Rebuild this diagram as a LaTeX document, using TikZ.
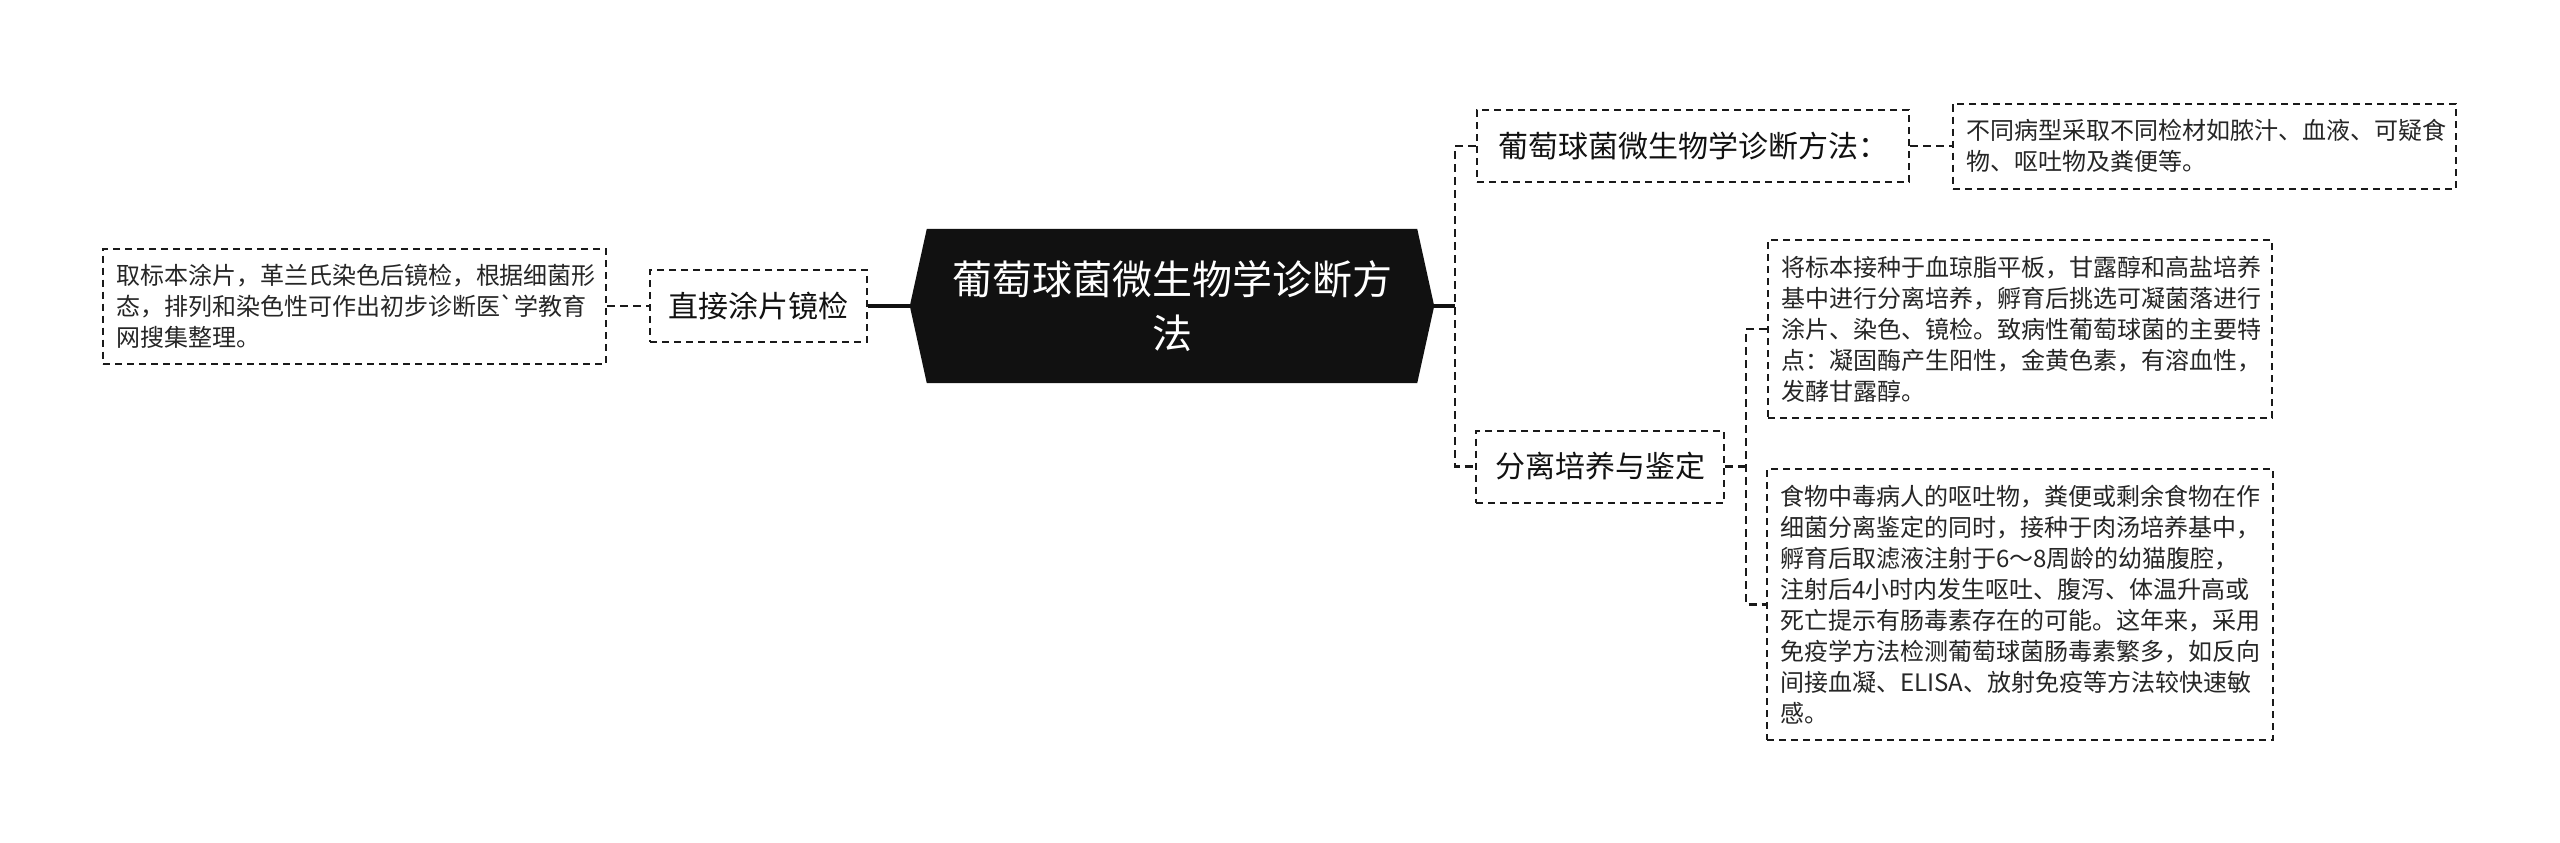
\documentclass[tikz,border=0pt]{standalone}
\usepackage{fontspec}
\newfontfamily\cjk{Noto Sans CJK SC}
\usetikzlibrary{calc,backgrounds}
\definecolor{ink}{HTML}{111111}
\definecolor{txt}{HTML}{262626}
\definecolor{bord}{HTML}{1A1A1A}
\begin{document}
\begin{tikzpicture}[x=1pt,y=-1pt,
  leaf/.style={draw=bord, line width=2pt, dash pattern=on 7pt off 5pt,
    font=\cjk\fontsize{24}{31}\selectfont, text=txt, align=left,
    inner xsep=13pt, inner ysep=0pt, anchor=center},
  topic/.style={draw=bord, line width=2pt, dash pattern=on 7pt off 5pt,
    font=\cjk\fontsize{30}{36}\selectfont, text=ink, align=center,
    inner sep=0pt, minimum height=72pt, anchor=center},
  mainnode/.style={font=\cjk\fontsize{40}{54}\selectfont, text=white, align=center,
    inner sep=0pt, minimum width=524pt, minimum height=154pt, anchor=center},
  conn/.style={draw=bord, line width=2.6pt, dash pattern=on 8pt off 5pt},
  solidconn/.style={draw=ink, line width=3.2pt}]
\useasboundingbox (0,0) rectangle (2560,843);
% nodes
\node[mainnode] (M) at (1172,306) {葡萄球菌微生物学诊断方\\法};
\node[topic, minimum width=217pt] (D) at (758.5,306) {直接涂片镜检};
\node[leaf, text width=477pt, minimum height=115pt] (L) at (354.5,306)
  {取标本涂片，革兰氏染色后镜检，根据细菌形\\态，排列和染色性可作出初步诊断医`学教育\\网搜集整理。};
\node[topic, minimum width=432pt] (A) at (1693,146) {葡萄球菌微生物学诊断方法：};
\node[leaf, text width=477pt, minimum height=85pt] (B) at (2204.5,146)
  {不同病型采取不同检材如脓汁、血液、可疑食\\物、呕吐物及粪便等。};
\node[topic, minimum width=248pt] (F) at (1600,466.5) {分离培养与鉴定};
\node[leaf, text width=478pt, minimum height=178pt] (C) at (2020,329)
  {将标本接种于血琼脂平板，甘露醇和高盐培养\\基中进行分离培养，孵育后挑选可凝菌落进行\\涂片、染色、镜检。致病性葡萄球菌的主要特\\点：凝固酶产生阳性，金黄色素，有溶血性，\\发酵甘露醇。};
\node[leaf, text width=480pt, minimum height=271pt] (E) at (2020,604.5)
  {食物中毒病人的呕吐物，粪便或剩余食物在作\\细菌分离鉴定的同时，接种于肉汤培养基中，\\孵育后取滤液注射于6～8周龄的幼猫腹腔，\\注射后4小时内发生呕吐、腹泻、体温升高或\\死亡提示有肠毒素存在的可能。这年来，采用\\免疫学方法检测葡萄球菌肠毒素繁多，如反向\\间接血凝、ELISA、放射免疫等方法较快速敏\\感。};
% background and main shape
\begin{scope}[on background layer]
  \fill[white] (0,0) rectangle (2560,843);
  \fill[ink] (M.west) -- ($(M.north west)+(17,0)$) -- ($(M.north east)+(-17,0)$)
    -- (M.east) -- ($(M.south east)+(-17,0)$) -- ($(M.south west)+(17,0)$) -- cycle;
\end{scope}
% junctions
\coordinate (s1) at (1455,306);
\coordinate (s2) at (1746,466.5);
% connectors
\draw[solidconn] (D.east) -- (M.west);
\draw[conn] (L.east) -- (D.west);
\draw[solidconn] (M.east) -- (s1);
\draw[conn] (A.west) -| (s1) |- (F.west);
\draw[conn] (A.east) -- (B.west |- A.east);
\draw[conn] (F.east) -- (s2);
\draw[conn] (C.west) -| (s2) |- (E.west);
\end{tikzpicture}
\end{document}
